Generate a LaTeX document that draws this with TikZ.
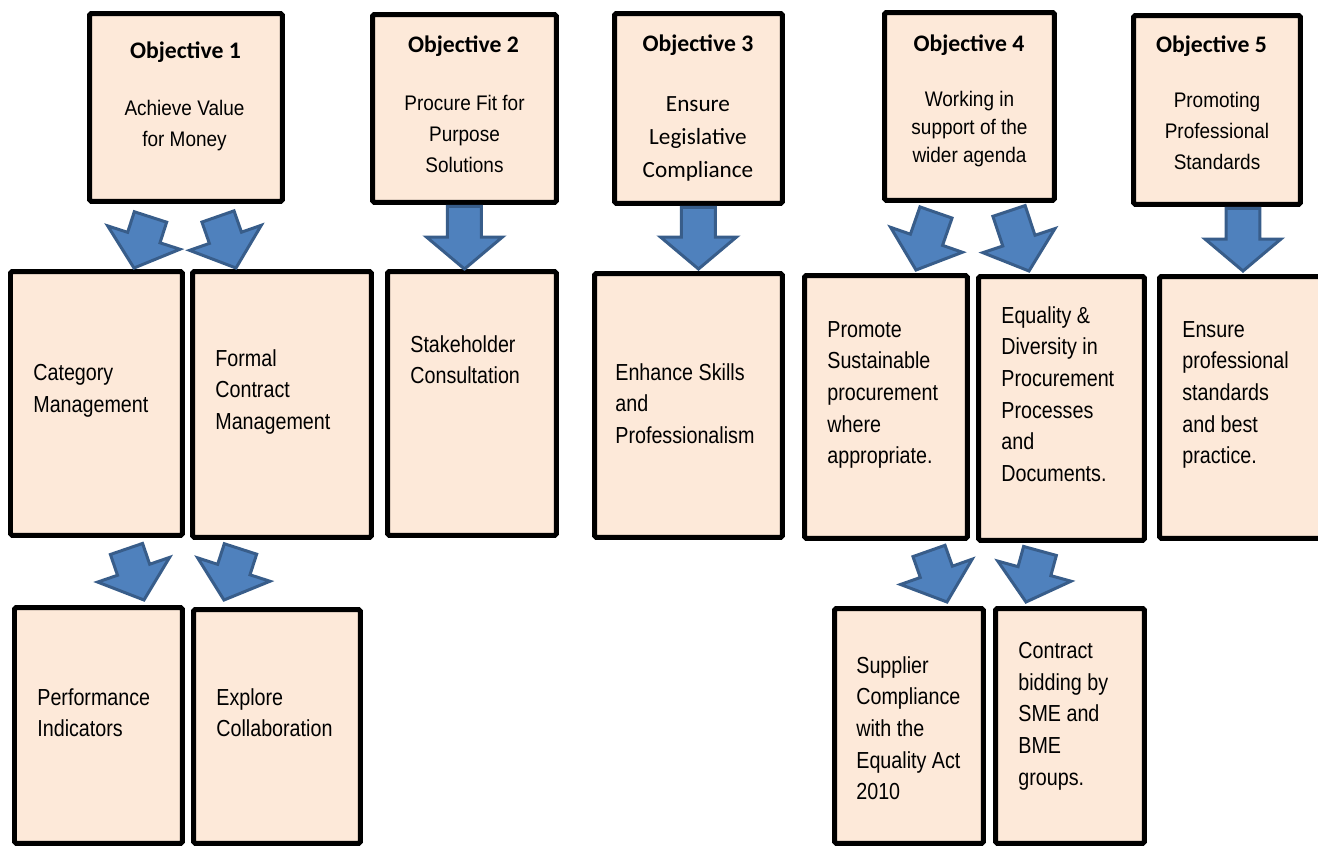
\documentclass[tikz,border=0pt]{standalone}
\usepackage{fontspec}
\setmainfont{Liberation Sans}
\newfontfamily\carlito{Carlito}
\newfontfamily\headarial[FakeStretch=0.9]{Liberation Sans}
\newfontfamily\narrowarial[FakeStretch=0.85]{Liberation Sans}
\usepackage{tikz}
\usetikzlibrary{
  calc,
  positioning
}
\usepackage{xcolor}
\definecolor{boxfill}{RGB}{253,233,217}
\definecolor{arrowblue}{RGB}{79,129,189}
\definecolor{arrowedge}{RGB}{56,93,138}

% block arrow from a tail point to a tip point
\newcommand{\fatarrow}[2]{%
  \coordinate (fa-tail) at #1;
  \coordinate (fa-tip) at #2;
  \coordinate (fa-base) at ($(fa-tip)!0.64cm!(fa-tail)$);
  \draw[blockarrow]
    ($(fa-tail)!0.34cm!90:(fa-tip)$) -- ($(fa-base)!0.34cm!90:(fa-tip)$)
    -- ($(fa-base)!0.76cm!90:(fa-tip)$) -- (fa-tip)
    -- ($(fa-base)!0.76cm!-90:(fa-tip)$) -- ($(fa-base)!0.34cm!-90:(fa-tip)$)
    -- ($(fa-tail)!0.34cm!-90:(fa-tip)$) -- cycle;
}

\begin{document}
\begin{tikzpicture}[
  x=0.02cm, y=-0.02cm,
  objbox/.style={
    rectangle, draw=black, line width=0.1cm, fill=boxfill,
    rounded corners=1pt, inner sep=0pt, anchor=north west
  },
  blockarrow/.style={
    draw=arrowedge, fill=arrowblue, line width=0.06cm
  },
  objtitle/.style={
    font=\carlito\bfseries\fontsize{13.5}{16}\selectfont,
    inner sep=0pt, anchor=north
  },
  objtext/.style={
    font=\headarial\fontsize{12}{17.6}\selectfont,
    align=center, inner sep=0pt, anchor=north
  },
  celltext/.style={
    font=\narrowarial\fontsize{13.2}{18}\selectfont,
    align=left, inner sep=0pt, anchor=north west
  }
]
  \useasboundingbox (0,0) rectangle (1318,846);

  % Objectives
  \node[objbox, minimum width=3.86cm, minimum height=3.76cm] (obj1) at (87,11) {};
  \node[objbox, minimum width=3.68cm, minimum height=3.76cm] (obj2) at (370,12) {};
  \node[objbox, minimum width=3.36cm, minimum height=3.80cm] (obj3) at (612,11) {};
  \node[objbox, minimum width=3.40cm, minimum height=3.76cm] (obj4) at (882,10) {};
  \node[objbox, minimum width=3.34cm, minimum height=3.78cm] (obj5) at (1131,13) {};

  \node[objtitle] (obj1title) at ($(obj1.north)+(-0.5,30)$) {Objective 1};
  \node[objtitle] (obj2title) at ($(obj2.north)+(-1,23)$) {Objective 2};
  \node[objtitle] (obj3title) at ($(obj3.north)+(-0.5,23)$) {Objective 3};
  \node[objtitle] (obj4title) at ($(obj4.north)+(-0.5,24)$) {Objective 4};
  \node[objtitle] (obj5title) at ($(obj5.north)+(-5.5,22)$) {Objective 5};

  \node[objtext] (obj1text) at ($(obj1.north)+(-1.5,89)$) {Achieve Value\\for Money};
  \node[objtext] (obj2text) at ($(obj2.north)+(0,83)$) {Procure Fit for\\Purpose\\Solutions};
  \node[objtext, font=\carlito\fontsize{13.2}{18.8}\selectfont]
    (obj3text) at ($(obj3.north)+(-0.5,85)$) {Ensure\\Legislative\\Compliance};
  \node[objtext, font=\headarial\fontsize{12}{15.9}\selectfont]
    (obj4text) at ($(obj4.north)+(0,81)$) {Working in\\support of the\\wider agenda};
  \node[objtext] (obj5text) at ($(obj5.north)+(0,79)$) {Promoting\\Professional\\Standards};

  % Second row
  \node[objbox, minimum width=3.44cm, minimum height=5.28cm] (catmgmt) at (8,269) {};
  \node[objbox, minimum width=3.58cm, minimum height=5.32cm] (contract) at (190,269) {};
  \node[objbox, minimum width=3.38cm, minimum height=5.28cm] (stake) at (385,269) {};
  \node[objbox, minimum width=3.76cm, minimum height=5.28cm] (skills) at (592,271) {};
  \node[objbox, minimum width=3.26cm, minimum height=5.26cm] (sustain) at (802,273) {};
  \node[objbox, minimum width=3.32cm, minimum height=5.28cm] (equality) at (976,274) {};
  \node[objbox, minimum width=3.40cm, minimum height=5.24cm] (ensure) at (1157,274) {};

  \node[celltext] (catmgmttext) at ($(catmgmt.north west)+(25,95)$) {Category\\Management};
  \node[celltext] (contracttext) at ($(contract.north west)+(25,80)$) {Formal\\Contract\\Management};
  \node[celltext] (staketext) at ($(stake.north west)+(25,66)$) {Stakeholder\\Consultation};
  \node[celltext] (skillstext) at ($(skills.north west)+(23,92)$) {Enhance Skills\\and\\Professionalism};
  \node[celltext] (sustaintext) at ($(sustain.north west)+(25,48)$)
    {Promote\\Sustainable\\procurement\\where\\appropriate.};
  \node[celltext] (equalitytext) at ($(equality.north west)+(25,32)$)
    {Equality \&\\Diversity in\\Procurement\\Processes\\and\\Documents.};
  \node[celltext] (ensuretext) at ($(ensure.north west)+(25,47)$)
    {Ensure\\professional\\standards\\and best\\practice.};

  % Third row
  \node[objbox, minimum width=3.36cm, minimum height=4.72cm] (perf) at (12,605) {};
  \node[objbox, minimum width=3.34cm, minimum height=4.68cm] (collab) at (191,607) {};
  \node[objbox, minimum width=2.98cm, minimum height=4.70cm] (supplier) at (832,606) {};
  \node[objbox, minimum width=2.98cm, minimum height=4.70cm] (sme) at (993,606) {};

  \node[celltext] (perftext) at ($(perf.north west)+(25,83)$) {Performance\\Indicators};
  \node[celltext] (collabtext) at ($(collab.north west)+(25,81)$) {Explore\\Collaboration};
  \node[celltext] (suppliertext) at ($(supplier.north west)+(24,50)$)
    {Supplier\\Compliance\\with the\\Equality Act\\2010};
  \node[celltext] (smetext) at ($(sme.north west)+(25,36)$)
    {Contract\\bidding by\\SME and\\BME\\groups.};

  % Arrows
  \fatarrow{($(obj1.south)+(-35.5,13)$)}{($(catmgmt.north)+(37.5,-1)$)}
  \fatarrow{($(obj1.south)+(32,12.5)$)}{($(contract.north)+(-46,-1)$)}
  \fatarrow{($(obj2.south)+(0,1.5)$)}{(obj2.south |- stake.north)}
  \fatarrow{($(obj3.south)+(0,1.5)$)}{($(obj3.south |- skills.north)+(0,-2)$)}
  \fatarrow{($(obj4.south)+(-33.5,9.5)$)}{($(sustain.north)+(30,-3)$)}
  \fatarrow{($(obj4.south)+(39.5,8)$)}{($(equality.north)+(-32.5,-3)$)}
  \fatarrow{($(obj5.south)+(26,1.5)$)}{($(obj5.south |- ensure.north)+(26,-3)$)}

  \fatarrow{($(catmgmt.south)+(30,11)$)}{($(perf.north)+(45.5,-5)$)}
  \fatarrow{($(contract.south)+(-41.5,9)$)}{($(collab.north)+(-53,-7)$)}
  \fatarrow{($(sustain.south)+(43,10)$)}{($(supplier.north)+(38,-4)$)}
  \fatarrow{($(equality.south)+(-21.5,8)$)}{($(sme.north)+(-44,-4)$)}
\end{tikzpicture}
\end{document}
